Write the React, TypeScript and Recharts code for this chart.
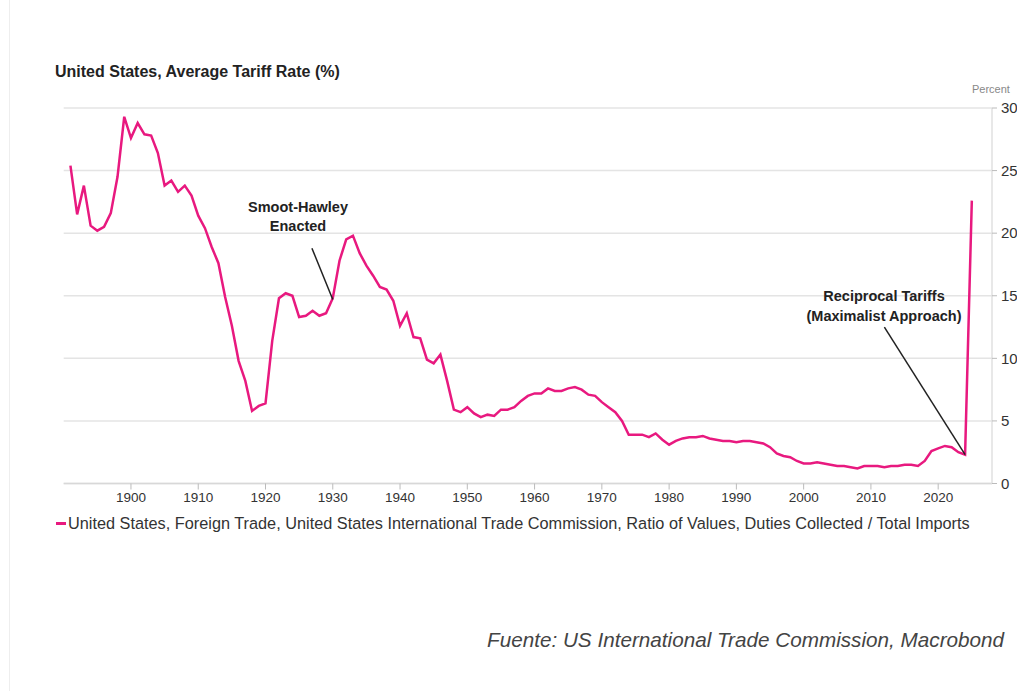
import React from "react";
import { LineChart, Line, XAxis, YAxis, CartesianGrid, ReferenceLine } from "recharts";

const FIRST_YEAR = 1891;
const rates1891_1920 = [
  25.4, 21.5, 23.8, 20.6, 20.2, 20.5, 21.6, 24.5, 29.3, 27.6,
  28.8, 27.9, 27.8, 26.4, 23.8, 24.2, 23.3, 23.8, 23.0, 21.4,
  20.4, 18.9, 17.6, 14.9, 12.6, 9.8, 8.2, 5.8, 6.2, 6.4,
];
const rates1921_1950 = [
  11.4, 14.8, 15.2, 15.0, 13.3, 13.4, 13.8, 13.4, 13.6, 14.8,
  17.8, 19.5, 19.8, 18.4, 17.4, 16.6, 15.7, 15.5, 14.6, 12.6,
  13.6, 11.7, 11.6, 9.9, 9.6, 10.3, 8.2, 5.9, 5.7, 6.1,
];
const rates1951_1980 = [
  5.6, 5.3, 5.5, 5.4, 5.9, 5.9, 6.1, 6.6, 7.0, 7.2,
  7.2, 7.6, 7.4, 7.4, 7.6, 7.7, 7.5, 7.1, 7.0, 6.5,
  6.1, 5.7, 5.0, 3.9, 3.9, 3.9, 3.7, 4.0, 3.5, 3.1,
];
const rates1981_2010 = [
  3.4, 3.6, 3.7, 3.7, 3.8, 3.6, 3.5, 3.4, 3.4, 3.3,
  3.4, 3.4, 3.3, 3.2, 2.9, 2.4, 2.2, 2.1, 1.8, 1.6,
  1.6, 1.7, 1.6, 1.5, 1.4, 1.4, 1.3, 1.2, 1.4, 1.4,
];
const rates2011_2025 = [
  1.4, 1.3, 1.4, 1.4, 1.5, 1.5, 1.4, 1.8, 2.6, 2.8,
  3.0, 2.9, 2.5, 2.3, 22.6,
];
const rates = [...rates1891_1920, ...rates1921_1950, ...rates1951_1980, ...rates1981_2010, ...rates2011_2025];
const years = rates.map((_, i) => FIRST_YEAR + i);

const xTicks = [1900, 1910, 1920, 1930, 1940, 1950, 1960, 1970, 1980, 1990, 2000, 2010, 2020];
const yTicks = [0, 5, 10, 15, 20, 25, 30];

const title = "United States, Average Tariff Rate (%)";
const legendLabel =
  "United States, Foreign Trade, United States International Trade Commission, Ratio of Values, Duties Collected / Total Imports";
const source = "Fuente: US International Trade Commission, Macrobond";

const smootSegment = [
  { x: 1926.9, y: 18.8 },
  { x: 1930, y: 14.7 },
];
const reciprocalSegment = [
  { x: 2012.0, y: 12.5 },
  { x: 2024, y: 2.3 },
];

const data = years.map((year, i) => ({ year, rate: rates[i] }));

const PINK = "#E8197F";
const FONT = "'Liberation Sans', Arial, sans-serif";

export default function App() {
  return (
    <div
      style={{
        position: "absolute",
        left: 0,
        top: 0,
        width: 1017,
        height: 691,
        background: "#fff",
        fontFamily: FONT,
        overflow: "hidden",
      }}
    >
      <div style={{ position: "absolute", left: 9, top: 0, width: 1, height: 691, background: "#eee" }} />
      <div
        style={{
          position: "absolute",
          left: 55,
          top: 63,
          fontSize: 16,
          fontWeight: 700,
          color: "#222",
          whiteSpace: "nowrap",
        }}
      >
        {title}
      </div>
      <div
        style={{ position: "absolute", left: 972, top: 83, fontSize: 11, color: "#888", whiteSpace: "nowrap" }}
      >
        Percent
      </div>
      <div style={{ position: "absolute", left: 0, top: 0 }}>
        <LineChart
          width={1017}
          height={520}
          data={data}
          margin={{ top: 108, right: 0, left: 63.7, bottom: 6.5 }}
        >
          <CartesianGrid vertical={false} stroke="#e4e4e4" strokeWidth={1.5} />
          <XAxis
            dataKey="year"
            type="number"
            domain={[1890, 2028]}
            ticks={xTicks}
            allowDataOverflow
            height={30}
            tickSize={6}
            tickMargin={3}
            stroke="#d8d8d8"
            tick={{ fill: "#333", fontSize: 13.5, fontFamily: FONT }}
            tickLine={{ stroke: "#bbb" }}
            axisLine={{ stroke: "#d8d8d8", strokeWidth: 1.5 }}
          />
          <YAxis
            orientation="right"
            domain={[0, 30]}
            ticks={yTicks}
            width={25}
            tickSize={5}
            tickMargin={4}
            tick={{ fill: "#333", fontSize: 15, fontFamily: FONT }}
            tickLine={{ stroke: "#bbb" }}
            axisLine={{ stroke: "#e0e0e0", strokeWidth: 1.5 }}
          />
          <Line
            type="linear"
            dataKey="rate"
            stroke={PINK}
            strokeWidth={2.5}
            dot={false}
            isAnimationActive={false}
          />
          <ReferenceLine segment={smootSegment} stroke="#222" strokeWidth={1.5} />
          <ReferenceLine segment={reciprocalSegment} stroke="#222" strokeWidth={1.5} />
        </LineChart>
      </div>
      <div
        style={{
          position: "absolute",
          left: 298,
          top: 198,
          transform: "translateX(-50%)",
          textAlign: "center",
          fontSize: 14.5,
          fontWeight: 700,
          color: "#222",
          lineHeight: "19px",
          whiteSpace: "nowrap",
        }}
      >
        Smoot-Hawley
        <br />
        Enacted
      </div>
      <div
        style={{
          position: "absolute",
          left: 884,
          top: 286,
          transform: "translateX(-50%)",
          textAlign: "center",
          fontSize: 14.5,
          fontWeight: 700,
          color: "#222",
          lineHeight: "20px",
          whiteSpace: "nowrap",
        }}
      >
        Reciprocal Tariffs
        <br />
        (Maximalist Approach)
      </div>
      <div
        style={{
          position: "absolute",
          left: 56,
          top: 514,
          display: "flex",
          alignItems: "center",
          whiteSpace: "nowrap",
        }}
      >
        <div style={{ width: 10, height: 3, background: PINK, marginRight: 2 }} />
        <span style={{ fontSize: 16.3, color: "#333" }}>{legendLabel}</span>
      </div>
      <div
        style={{
          position: "absolute",
          left: 487,
          top: 628,
          fontSize: 20.7,
          fontStyle: "italic",
          color: "#444",
          whiteSpace: "nowrap",
        }}
      >
        {source}
      </div>
    </div>
  );
}
